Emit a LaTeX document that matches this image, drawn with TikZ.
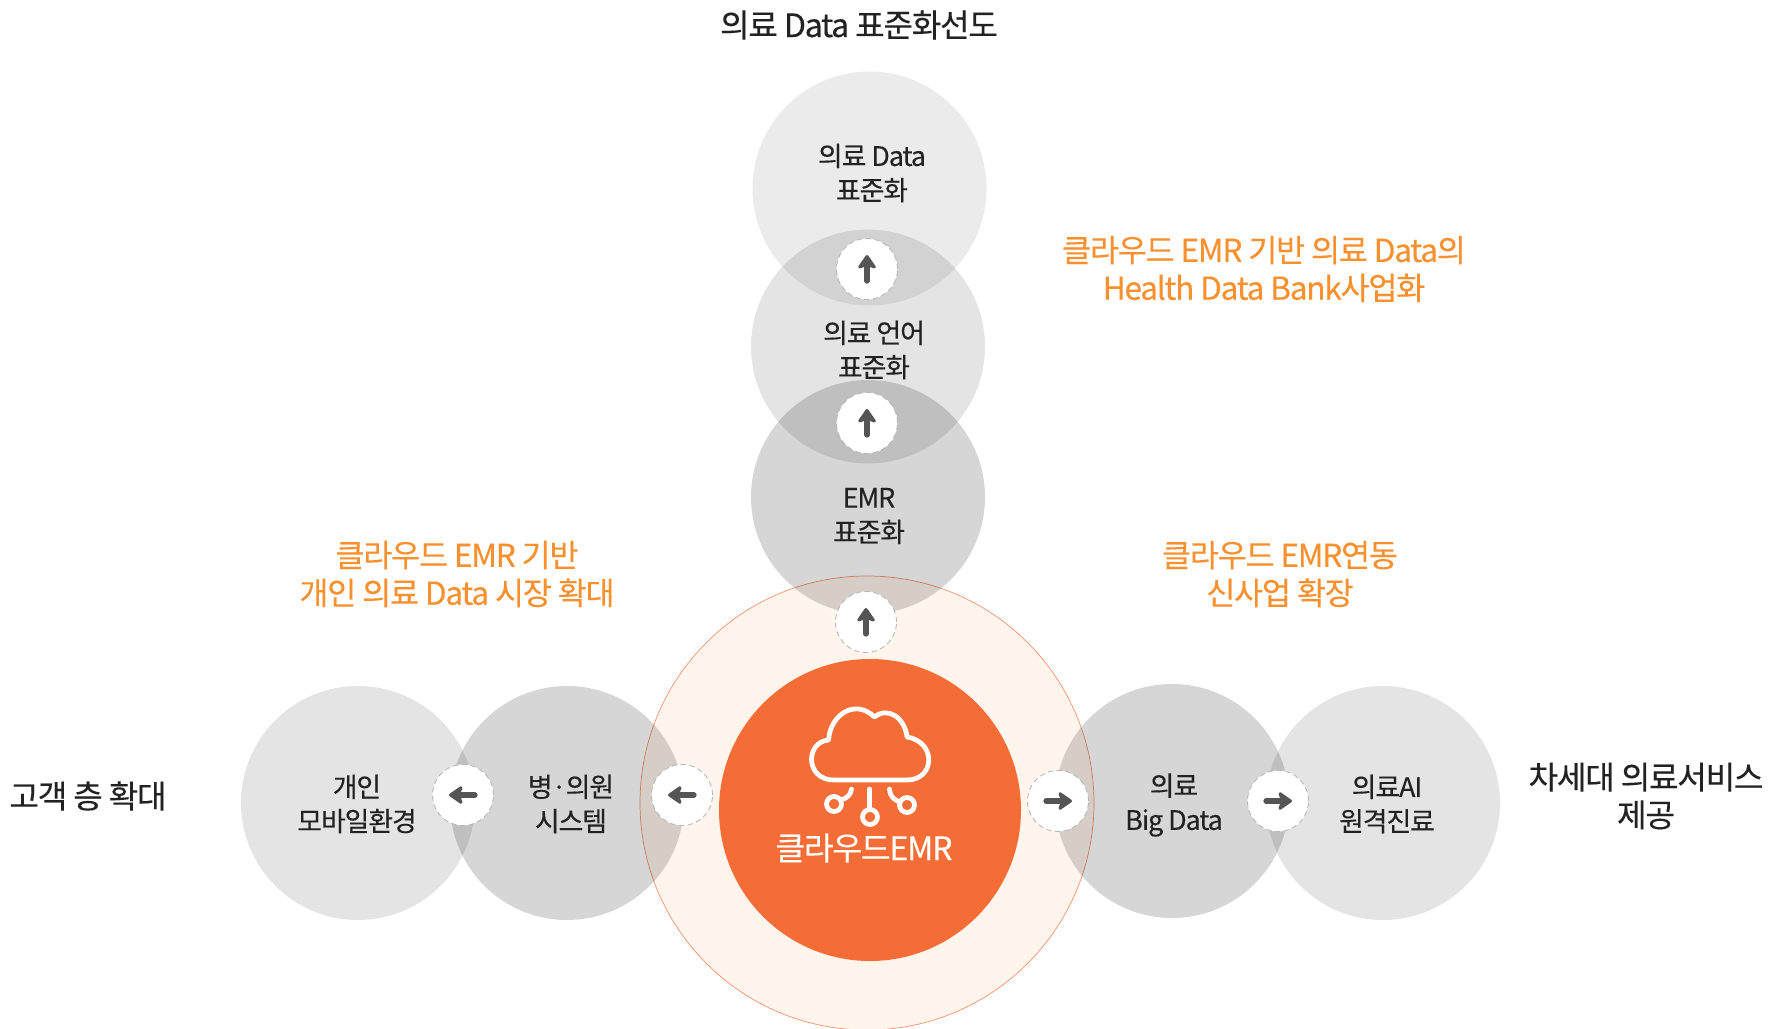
\documentclass[tikz,border=0pt]{standalone}
\usepackage{fontspec}
\setmainfont{Noto Sans CJK KR}[LetterSpace=-4.0, FakeBold=0.25]
\usetikzlibrary{positioning, arrows.meta, calc}
\definecolor{emrorange}{HTML}{F46D36}
\definecolor{emrpale}{HTML}{FFF5EC}
\definecolor{emrline}{HTML}{F29270}
\definecolor{emrtext}{HTML}{F7912F}
\definecolor{emrdark}{HTML}{222222}
\definecolor{emrarrow}{HTML}{555555}
\tikzset{
    bubble/.style={circle, minimum size=46.8mm, inner sep=0pt, fill=black, fill opacity=#1},
    btn/.style={circle, minimum size=12.2mm, inner sep=0pt, fill=white, draw=black!28, line width=0.5pt, densely dashed},
    btnarrow/.style={-{Stealth[length=3.2mm,width=4.4mm,inset=0.8mm,round]}, line width=1.05mm, line cap=round, emrarrow},
    lbl/.style={align=center, text=emrdark, font=\fontsize{15.3}{19.5}\selectfont},
    sidelbl/.style={align=center, text=emrdark, font=\fontsize{18.3}{21.5}\selectfont},
    note/.style={align=center, text=emrtext, font=\fontsize{18}{21.5}\selectfont},
    iconline/.style={draw=white, line width=0.95mm, line cap=round, line join=round}
}
\begin{document}
\begin{tikzpicture}[x=0.2mm, y=-0.2mm]
    \useasboundingbox (0,0) rectangle (1786,1029);

    % Nucleo
    \node[circle, minimum size=90.8mm, inner sep=0pt, fill=emrpale, draw=emrline, line width=0.4pt] (halo) at (867,803) {};

    % Burbujas
    \node[bubble=.08] (stddata) at (869.5,188.5) {};
    \node[bubble=.105] (stdlang) at (868,346.5) {};
    \node[bubble=.16] (stdemr) at (868,497) {};
    \node[bubble=.105] (mobile) at (358,803) {};
    \node[bubble=.16] (clinic) at (567,803) {};
    \node[bubble=.16] (bigdata) at (1172,801) {};
    \node[bubble=.105] (remote) at (1383,803) {};
    \node[circle, minimum size=60.4mm, inner sep=0pt, fill=emrorange] (core) at (870,810) {};

    % Botones
    \foreach \nm/\x/\y/\dx/\dy in {upa/867/269/0/-1, upb/867/423/0/-1, upc/866/622/0/-1,
        lefta/682/795/-1/0, leftb/463/795/-1/0, righta/1058/801/1/0, rightb/1278/801/1/0}{
        \node[btn] (\nm) at (\x,\y) {};
        \draw[btnarrow] ($(\nm)+(-12*\dx,-12*\dy)$) -- ($(\nm)+(14*\dx,14*\dy)$);
    }

    % Icono
    \draw[iconline] (834,780) .. controls (805,780) and (805,742) .. (828.6,740)
        .. controls (830,715) and (855,698) .. (874.5,717)
        .. controls (888,706) and (905,718) .. (907,737)
        .. controls (937,742) and (935,780) .. (907,780) -- cycle;
    \draw[iconline] (834,804) circle (7.5);
    \draw[iconline] (870,817) circle (7.5);
    \draw[iconline] (907,805) circle (7.5);
    \draw[iconline] (841,800) .. controls (847,798) and (851,795) .. (851.5,789);
    \draw[iconline] (869.5,789) -- (869.5,809);
    \draw[iconline] (900,802) .. controls (894,800) and (889.5,796) .. (889.5,789);

    % Textos
    \node[sidelbl] (title) at (859,25) {의료 Data 표준화선도};
    \node[lbl] (tdata) at (872,173) {의료 Data\\표준화};
    \node[lbl] (tlang) at (874,350) {의료 언어\\표준화};
    \node[lbl] (temr) at (869,516) {EMR\\표준화};
    \node[lbl] (tmobile) at (357,804) {개인\\모바일환경};
    \node[lbl] (tclinic) at (571,804) {병·의원\\시스템};
    \node[lbl] (tbig) at (1174,805) {의료\\Big Data};
    \node[lbl] (tremote) at (1387,804) {의료AI\\원격진료};
    \node[align=center, text=white, font=\fontsize{18.4}{20}\selectfont] (tcore) at (864,848) {클라우드EMR};

    \node[note] (nbank) at (1264,269) {클라우드 EMR 기반 의료 Data의\\Health Data Bank사업화};
    \node[note] (nmarket) at (457,574) {클라우드 EMR 기반\\개인 의료 Data 시장 확대};
    \node[note] (nnew) at (1280,574) {클라우드 EMR연동\\신사업 확장};
    \node[sidelbl] (sleft) at (88,796) {고객 층 확대};
    \node[sidelbl] (sright) at (1646,796) {차세대 의료서비스\\제공};
\end{tikzpicture}
\end{document}
